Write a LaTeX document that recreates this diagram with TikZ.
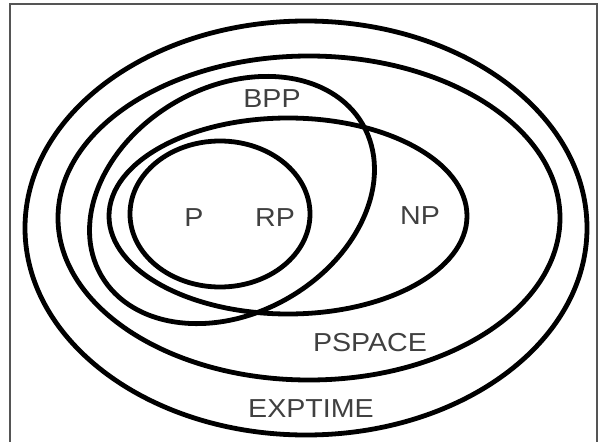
\documentclass[tikz,border=0pt]{standalone}
\usepackage{fontspec}
\usepackage{graphicx}
\setmainfont{Liberation Sans}
\definecolor{lbl}{HTML}{404040}
\definecolor{frame}{HTML}{555555}
\newcommand{\widetxt}[1]{\scalebox{1.1}[1]{#1}}
\begin{document}
\begin{tikzpicture}[x=1pt,y=-1pt,
  set/.style={line width=4.8pt,black},
  lab/.style={text=lbl,font=\fontsize{26}{26}\selectfont,inner sep=0pt}]
\useasboundingbox (0,0) rectangle (598,442);
\fill[white] (0,0) rectangle (598,442);
\draw[frame,line width=2pt] (10,442) -- (10,4) -- (597,4) -- (597,442);
% EXPTIME
\draw[set] (306,228) ellipse [x radius=281pt, y radius=207pt];
% PSPACE
\draw[set] (309,218) ellipse [x radius=251pt, y radius=162pt];
% NP
\draw[set] (288,216) ellipse [x radius=179pt, y radius=98pt];
% P / RP
\draw[set] (220,214) ellipse [x radius=90pt, y radius=73pt];
% BPP
\draw[set,rotate around={30:(232,200)}] (232,200) ellipse [x radius=151pt, y radius=113pt];
\node[lab] (bpp) at (272,99) {\widetxt{BPP}};
\node[lab] (p) at (194,218) {\widetxt{P}};
\node[lab] (rp) at (275,218) {\widetxt{RP}};
\node[lab] (np) at (420,216) {\widetxt{NP}};
\node[lab] (pspace) at (370,343) {\widetxt{PSPACE}};
\node[lab] (exptime) at (311,409) {\widetxt{EXPTIME}};
\end{tikzpicture}
\end{document}
